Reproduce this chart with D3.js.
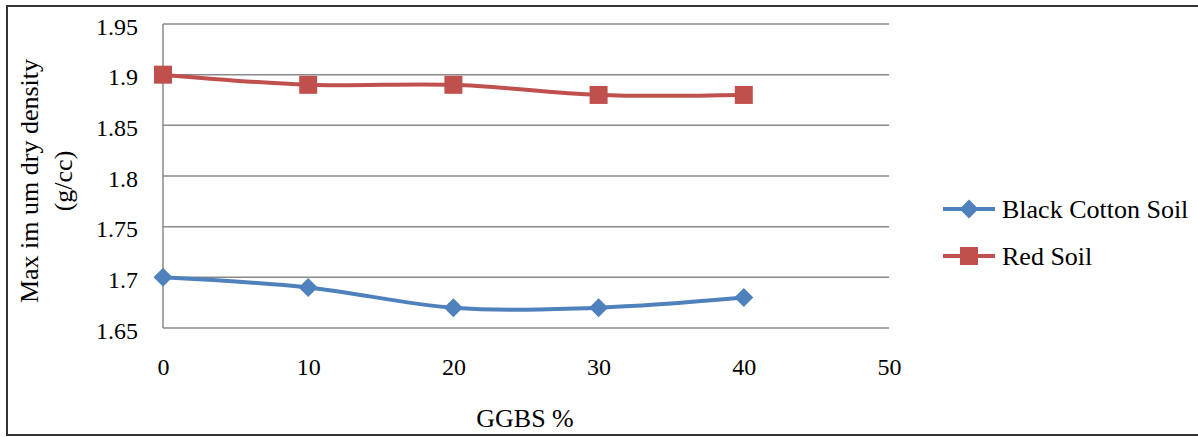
<!DOCTYPE html>
<html><head><meta charset="utf-8">
<script src="https://cdn.jsdelivr.net/npm/d3@7"></script>
<style>html,body{margin:0;padding:0;background:#fff;}svg{display:block;}</style>
</head><body>
<svg id="chart" width="1198" height="437"></svg>
<script>
const ggbs = [0, 10, 20, 30, 40];
const blackCottonSoil = [1.70, 1.69, 1.67, 1.67, 1.68];
const redSoil = [1.90, 1.89, 1.89, 1.88, 1.88];
const xTicks = [0, 10, 20, 30, 40, 50];
const yTicks = [1.65, 1.7, 1.75, 1.8, 1.85, 1.9, 1.95];
const seriesNames = ["Black Cotton Soil", "Red Soil"];

const svg = d3.select("#chart");
const font = "'Liberation Serif','Times New Roman',serif";
const fs = 24;
const fsBig = 26;

svg.append("rect").attr("x", 7).attr("y", 6).attr("width", 1200).attr("height", 429)
  .attr("fill", "#fff").attr("stroke", "#333").attr("stroke-width", 2);

const x = d3.scaleLinear().domain([0, 50]).range([163, 889]);
const y = d3.scaleLinear().domain([1.65, 1.95]).range([328, 24]);

// gridlines
svg.append("g").selectAll("line").data(yTicks).join("line")
  .attr("x1", x(0)).attr("x2", x(50)).attr("y1", d => y(d)).attr("y2", d => y(d))
  .attr("stroke", "#8a8a8a").attr("stroke-width", 1.5);
svg.append("line").attr("x1", x(0)).attr("x2", x(0)).attr("y1", y(1.95)).attr("y2", y(1.65))
  .attr("stroke", "#8a8a8a").attr("stroke-width", 1.5);

// axes via d3
const yAxis = svg.append("g").attr("transform", `translate(${x(0)},0)`)
  .call(d3.axisLeft(y).tickValues(yTicks).tickFormat(d => d3.format("")(+d.toFixed(2))).tickSize(0).tickPadding(25));
yAxis.select(".domain").remove();
yAxis.selectAll("text").attr("font-family", font).attr("font-size", fs).attr("fill", "#000").attr("dy", "0.42em");

const xAxis = svg.append("g").attr("transform", `translate(0,${y(1.65)})`)
  .call(d3.axisBottom(x).tickValues(xTicks).tickFormat(d3.format("d")).tickSize(0).tickPadding(30));
xAxis.select(".domain").remove();
xAxis.selectAll("text").attr("font-family", font).attr("font-size", fs).attr("fill", "#000");

// axis titles
svg.append("text").attr("x", 525).attr("y", 427).attr("text-anchor", "middle")
  .attr("font-family", font).attr("font-size", fsBig).text("GGBS %");
const yt = svg.append("g").attr("transform", "translate(0,181) rotate(-90)");
yt.append("text").attr("x", 0).attr("y", 38).attr("text-anchor", "middle")
  .attr("font-family", font).attr("font-size", fsBig).text("Max im um dry density");
yt.append("text").attr("x", 0).attr("y", 72).attr("text-anchor", "middle")
  .attr("font-family", font).attr("font-size", fsBig).text("(g/cc)");

const colors = ["#4F81BD", "#C0504D"];
const data = [blackCottonSoil, redSoil];
const line = d3.line().x((d, i) => x(ggbs[i])).y(d => y(d)).curve(d3.curveCatmullRom.alpha(0));

data.forEach((vals, k) => {
  svg.append("path").datum(vals).attr("d", line).attr("fill", "none")
    .attr("stroke", colors[k]).attr("stroke-width", 4);
});

function marker(g, k, cx, cy) {
  if (k === 0) {
    const r = 9.5;
    g.append("path").attr("d", `M0,${-r}L${r},0L0,${r}L${-r},0Z`)
      .attr("transform", `translate(${cx},${cy})`).attr("fill", colors[0]);
  } else {
    g.append("rect").attr("x", cx - 9).attr("y", cy - 9).attr("width", 18).attr("height", 18)
      .attr("fill", colors[1]);
  }
}
data.forEach((vals, k) => {
  const g = svg.append("g");
  vals.forEach((v, i) => marker(g, k, x(ggbs[i]), y(v)));
});

// legend
const legY = [209, 256];
seriesNames.forEach((name, k) => {
  svg.append("line").attr("x1", 943).attr("x2", 995).attr("y1", legY[k]).attr("y2", legY[k])
    .attr("stroke", colors[k]).attr("stroke-width", 4);
  marker(svg.append("g"), k, 969, legY[k]);
  svg.append("text").attr("x", 1002).attr("y", legY[k]).attr("dy", "0.35em")
    .attr("font-family", font).attr("font-size", fsBig).text(name);
});
</script>
</body></html>
